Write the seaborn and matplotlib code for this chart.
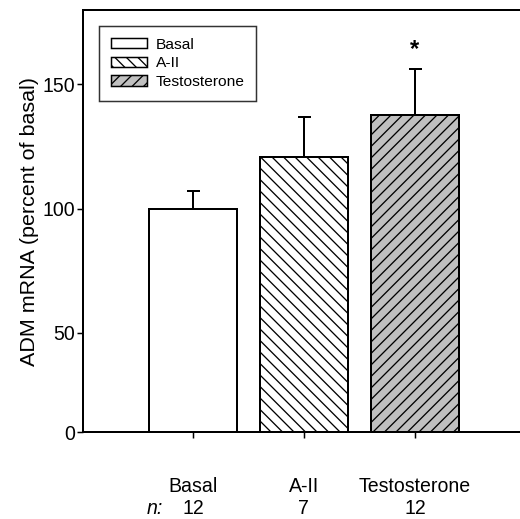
import matplotlib
matplotlib.use("Agg")
import matplotlib.pyplot as plt
from matplotlib.patches import Patch
from matplotlib.transforms import blended_transform_factory
import seaborn as sns
import pandas as pd

categories = ["Basal", "A-II", "Testosterone"]
means = [100, 120.7, 137.7]
sem_upper = [7, 16.3, 18.5]
n_values = ["12", "7", "12"]
ytick_values = [10, 50, 100, 150]
ytick_labels = ["0", "50", "100", "150"]

DPI = 138
PX = 72.0 / DPI  # points per pixel

sns.set_theme(style="ticks")
plt.rcParams["font.family"] = ["Liberation Sans", "DejaVu Sans"]
plt.rcParams["hatch.linewidth"] = 1.3 * PX
plt.rcParams["text.color"] = "black"
plt.rcParams["axes.labelcolor"] = "black"
plt.rcParams["xtick.color"] = "black"
plt.rcParams["ytick.color"] = "black"

fig = plt.figure(figsize=(520 / DPI, 519 / DPI), dpi=DPI)
ax = fig.add_axes([83 / 520, 1 - 432 / 519, 1.02 - 83 / 520, (432 - 10) / 519])

df = pd.DataFrame({"group": categories, "value": means})
sns.barplot(data=df, x="group", y="value", hue="group",
            palette=["white", "white", "#c0c0c0"], width=0.8,
            edgecolor="black", linewidth=2 * PX, legend=False, ax=ax,
            errorbar=None)

hatches = ["", "\\\\\\\\", "////"]
for patch, h in zip(ax.patches, hatches):
    patch.set_hatch(h)
    patch.set_edgecolor("black")

ax.errorbar(range(len(categories)), means, yerr=[[0] * 3, sem_upper],
            fmt="none", ecolor="black", elinewidth=2 * PX,
            capsize=6.5 * PX, capthick=2 * PX, zorder=1)

# significance star
ax.text(2, means[2] + sem_upper[2] + 8, "*", ha="center", va="center",
        fontsize=24 * PX, fontweight="bold", color="black")

ax.set_xlim(-0.99, 3.04)
ax.set_ylim(10, 180)
ax.set_yticks(ytick_values)
ax.set_yticklabels(ytick_labels)
ax.set_xlabel("")
ax.set_ylabel("ADM mRNA (percent of basal)", fontsize=21.5 * PX, labelpad=3 * PX,
              color="black")

for s in ["left", "bottom", "top", "right"]:
    ax.spines[s].set_linewidth(2 * PX)
    ax.spines[s].set_color("black")

ax.tick_params(axis="y", labelsize=19.5 * PX, length=6 * PX, width=1.5 * PX,
               pad=2 * PX, colors="black")
ax.tick_params(axis="x", labelsize=19.5 * PX, length=6 * PX, width=1.5 * PX,
               pad=39 * PX, colors="black")

# n row
trans = blended_transform_factory(ax.transData, fig.transFigure)
ny = 1 - 509 / 519
for i, n in enumerate(n_values):
    ax.text(i, ny, n, transform=trans, ha="center", va="center",
            fontsize=19.5 * PX, color="black")
ax.text(-0.34, ny, "n:", transform=trans, ha="center", va="center",
        fontsize=19.5 * PX, style="italic", color="black")

handles = [Patch(facecolor="white", edgecolor="black", hatch=hatches[0], linewidth=1.5 * PX),
           Patch(facecolor="white", edgecolor="black", hatch=hatches[1], linewidth=1.5 * PX),
           Patch(facecolor="#c0c0c0", edgecolor="black", hatch=hatches[2], linewidth=1.5 * PX)]
leg = ax.legend(handles, categories, loc="upper left",
                bbox_to_anchor=(99 / 520, 1 - 26 / 519), bbox_transform=fig.transFigure,
                fontsize=15.5 * PX, frameon=True, fancybox=False,
                handlelength=2.35, handleheight=0.65, handletextpad=0.55,
                labelspacing=0.3, borderpad=0.75, borderaxespad=0,
                labelcolor="black")
leg.get_frame().set_edgecolor("black")
leg.get_frame().set_linewidth(1.5 * PX)

fig.savefig("out.png", dpi=DPI)
